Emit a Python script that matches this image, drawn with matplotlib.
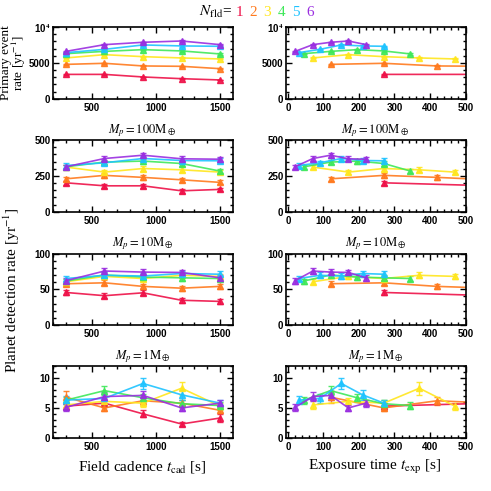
import numpy as np
import matplotlib
matplotlib.use("Agg")
import matplotlib.pyplot as plt
from matplotlib.ticker import MultipleLocator, FuncFormatter

# field cadence (left column) and exposure time for each N_fld (right column)
t_cad = [300, 600, 900, 1200, 1500]
t_exp = [[270, 570, 870, 1170, 1470],
         [120, 270, 420, 570, 720],
         [70, 170, 270, 370, 470],
         [45, 120, 195, 270, 345],
         [30, 90, 150, 210, 270],
         [20, 70, 120, 170, 220]]

n_fld = ['1', '2', '3', '4', '5', '6']
colors = ['#ee1148', '#ff7a1e', '#ffe61e', '#3fe85a', '#1ec3ff', '#9a2ee0']

# primary event rate [yr^-1]
prim_rate = [[3400, 3400, 3040, 2800, 2620],
             [4800, 4950, 4580, 4530, 4200],
             [5700, 6160, 5880, 5700, 5560],
             [6300, 6620, 6860, 6680, 6260],
             [6440, 6900, 7520, 7380, 7330],
             [6620, 7560, 7890, 8070, 7560]]
prim_err = [[60, 60, 60, 55, 55],
            [70, 70, 70, 70, 65],
            [75, 80, 75, 75, 75],
            [80, 80, 80, 80, 80],
            [80, 85, 85, 85, 85],
            [80, 85, 90, 90, 85]]

# planet detection rates [yr^-1]
det100_rate = [[202, 181, 181, 146, 156],
               [230, 254, 240, 223, 205],
               [312, 277, 302, 293, 277],
               [314, 347, 354, 337, 284],
               [323, 342, 372, 358, 356],
               [314, 372, 395, 370, 367]]
det100_err = [[13, 13, 13, 12, 12],
              [14, 15, 15, 14, 14],
              [15, 16, 17, 17, 16],
              [15, 16, 17, 17, 16],
              [15, 16, 17, 17, 17],
              [16, 18, 18, 17, 17]]

det10_rate = [[45.5, 41, 45, 34.6, 33],
              [57.7, 59, 54, 51.5, 54],
              [60.5, 68, 65, 69.5, 68],
              [61.5, 70, 67, 66, 65],
              [65, 69.5, 68.5, 72, 71],
              [62, 75.5, 74, 73.5, 66]]
det10_err = [[3.5, 3.5, 3.5, 3.5, 3.5],
             [3.5, 3.5, 3.5, 3.5, 3.5],
             [3.5, 4, 4, 4, 4],
             [3.5, 4, 4, 4, 4],
             [4, 4, 4, 4, 4],
             [4, 4, 4, 4, 4]]

det1_rate = [[5.3, 5.8, 4.0, 2.3, 3.3],
             [6.8, 5.0, 6.2, 5.8, 4.6],
             [5.5, 6.1, 5.8, 8.3, 5.3],
             [6.3, 7.9, 6.7, 5.7, 5.4],
             [6.3, 6.6, 9.1, 7.2, 5.8],
             [5.1, 6.9, 7.1, 5.0, 5.8]]
det1_err = [[0.6, 0.6, 0.6, 0.4, 0.6],
            [1.0, 0.5, 0.7, 0.6, 0.5],
            [0.6, 0.6, 0.6, 1.1, 0.6],
            [0.6, 0.8, 0.7, 0.6, 0.6],
            [0.7, 0.7, 1.0, 0.8, 0.6],
            [0.6, 0.7, 0.7, 0.5, 0.6]]

rows = [(prim_rate, prim_err, 10000, 5000, 1000, None),
        (det100_rate, det100_err, 500, 250, 50, r'$M_p=100\mathrm{M}_\oplus$'),
        (det10_rate, det10_err, 100, 50, 10, r'$M_p=10\mathrm{M}_\oplus$'),
        (det1_rate, det1_err, 12, 5, 1, r'$M_p=1\mathrm{M}_\oplus$')]

plt.rcParams['mathtext.fontset'] = 'stix'
serif = 'Liberation Serif'
sans = 'Liberation Sans'

fig = plt.figure(figsize=(4.91, 4.91), dpi=100)

W = 491.0
lefts = [52.5 / W, 285.5 / W]
width = 180 / W
bottoms = [1 - 98.7 / W, 1 - 211.7 / W, 1 - 325 / W, 1 - 437.7 / W]
height = 71.5 / W


def ytick_fmt(v, pos):
    if v == 10000:
        return r'10$^{\mathbf{4}}$'
    return '%d' % v


for r, (rate, err, ytop, ymaj, ymin_, title) in enumerate(rows):
    for c in range(2):
        ax = fig.add_axes([lefts[c], bottoms[r], width, height])
        for i in range(6):
            xs = t_cad if c == 0 else t_exp[i]
            ax.errorbar(xs, rate[i], yerr=err[i], color=colors[i], lw=1.2,
                        marker='^', ms=5, capsize=2.5, capthick=1.0,
                        elinewidth=1.0, alpha=0.9)
        if c == 0:
            ax.set_xlim(195, 1597)
            ax.xaxis.set_major_locator(MultipleLocator(500))
            ax.xaxis.set_minor_locator(MultipleLocator(100))
        else:
            ax.set_xlim(-7, 500)
            ax.xaxis.set_major_locator(MultipleLocator(100))
            ax.xaxis.set_minor_locator(MultipleLocator(20))
        ax.set_ylim(0, ytop)
        ax.yaxis.set_major_locator(MultipleLocator(ymaj))
        ax.yaxis.set_minor_locator(MultipleLocator(ymin_))
        ax.yaxis.set_major_formatter(FuncFormatter(ytick_fmt))
        ax.tick_params(which='both', direction='in', top=True, right=True,
                       labelsize=7, width=1.0, pad=3)
        ax.tick_params(axis='y', pad=1.5)
        ax.tick_params(which='major', length=4)
        ax.tick_params(which='minor', length=2)
        for lab in ax.get_xticklabels() + ax.get_yticklabels():
            lab.set_fontweight('bold')
            lab.set_family(sans)
        for sp in ax.spines.values():
            sp.set_linewidth(1.2)
        if title:
            ax.set_title(title, fontsize=9, pad=5)

# axis labels
fig.text(14 / W, 1 - 63 / W, 'Primary event\nrate [yr$^{-1}$]', family=serif,
         fontsize=9.5, rotation=90, ha='center', va='center', linespacing=0.9)
fig.text(12 / W, 1 - 290 / W, 'Planet detection rate [yr$^{-1}$]', family=serif,
         fontsize=11, rotation=90, ha='center', va='center')
fig.text(142 / W, 1 - 467 / W, r'Field cadence $t_{\rm cad}$ [s]', family=serif,
         fontsize=11, ha='center', va='center')
fig.text(375 / W, 1 - 467 / W, r'Exposure time $t_{\rm exp}$ [s]', family=serif,
         fontsize=11, ha='center', va='center')

# colour key
fig.text(232 / W, 1 - 12 / W, r'$N_{\rm fld}$=', family=serif, fontsize=11,
         ha='right', va='center')
for i, lab in enumerate(n_fld):
    fig.text((239 + 14.2 * i) / W, 1 - 12 / W, lab, color=colors[i], family=serif,
             fontsize=11, ha='center', va='center')

fig.savefig('out.png', dpi=100)
